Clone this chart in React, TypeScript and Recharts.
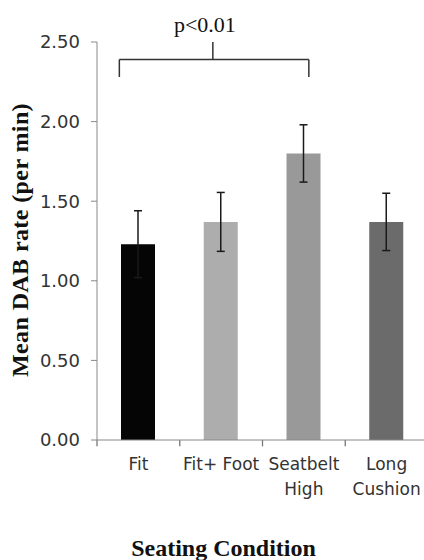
import { Bar, BarChart, Cell, ErrorBar, ReferenceLine, XAxis, YAxis } from 'recharts';

const conditions = ['Fit', 'Fit+ Foot', 'Seatbelt\nHigh', 'Long\nCushion'];
const meanRate = [1.23, 1.37, 1.8, 1.37];
const errRate = [0.21, 0.185, 0.18, 0.18];
const barColors = ['#050505', '#adadad', '#999999', '#6b6b6b'];
const slots = [0.5, 1.5, 2.5, 3.5];
const yTicks = [0, 0.5, 1, 1.5, 2, 2.5];
const boundaryTicks = [0, 1, 2, 3, 4];

const data = conditions.map((name, i) => ({ name, slot: slots[i], mean: meanRate[i], err: errRate[i] }));

const tickFont = { fontFamily: 'DejaVu Sans', fontSize: 18, fill: '#333' };
const titleFont = { fontFamily: '"Liberation Serif", serif', fontWeight: 700, fill: '#111' };

function CategoryTick({ x, y, payload }: any) {
  const lines = String(payload.value).split('\n');
  return (
    <text x={x} y={y} textAnchor="middle" {...tickFont} fontSize={17}>
      {lines.map((line, i) => (
        <tspan key={i} x={x} dy={i === 0 ? 24 : 25}>
          {line}
        </tspan>
      ))}
    </text>
  );
}

const bracket = { stroke: '#333', strokeWidth: 1.5 };

export default function App() {
  return (
    <div style={{ position: 'fixed', left: 0, top: 0, width: 424, height: 560, overflow: 'hidden', background: '#fff' }}>
      <BarChart width={440} height={560} data={data} margin={{ top: 42, right: 12, bottom: 0, left: 0 }}>
        <XAxis xAxisId="grid" type="number" dataKey="slot" domain={[0, 4]} allowDataOverflow hide />
        <XAxis
          xAxisId="cat"
          dataKey="name"
          height={120}
          stroke="#888"
          tickLine={false}
          tickMargin={0}
          interval={0}
          tick={<CategoryTick />}
          label={{ value: 'Seating Condition', position: 'insideBottom', offset: 4, dx: -39, style: { ...titleFont, fontSize: 24 } }}
        />
        <YAxis
          domain={[0, 2.5]}
          ticks={yTicks}
          width={97}
          stroke="#888"
          tickSize={6}
          tickMargin={11}
          tick={tickFont}
          tickFormatter={(v) => Number(v).toFixed(2)}
          label={{
            value: 'Mean DAB rate (per min)',
            angle: -90,
            position: 'insideLeft',
            offset: 0,
            dx: 19,
            dy: -1,
            style: { ...titleFont, fontSize: 24, letterSpacing: 0.4, textAnchor: 'middle' },
          }}
        />
        <Bar xAxisId="cat" dataKey="mean" barSize={34} isAnimationActive={false}>
          {data.map((d, i) => (
            <Cell key={d.name} fill={barColors[i]} />
          ))}
          <ErrorBar dataKey="err" width={4} stroke="#1a1a1a" strokeWidth={1.5} direction="y" />
        </Bar>
        {boundaryTicks.map((t) => (
          <ReferenceLine
            key={t}
            xAxisId="grid"
            segment={[{ x: t, y: 0 }, { x: t, y: -0.04 }]}
            stroke="#777"
            strokeWidth={1.3}
            ifOverflow="visible"
          />
        ))}
        <ReferenceLine xAxisId="grid" segment={[{ x: 0.27, y: 2.28 }, { x: 0.27, y: 2.39 }]} {...bracket} ifOverflow="visible" />
        <ReferenceLine xAxisId="grid" segment={[{ x: 0.27, y: 2.39 }, { x: 2.56, y: 2.39 }]} {...bracket} ifOverflow="visible" />
        <ReferenceLine xAxisId="grid" segment={[{ x: 2.56, y: 2.28 }, { x: 2.56, y: 2.39 }]} {...bracket} ifOverflow="visible" />
        <ReferenceLine
          xAxisId="grid"
          segment={[{ x: 1.4, y: 2.39 }, { x: 1.4, y: 2.5 }]}
          {...bracket}
          ifOverflow="visible"
          label={{ value: 'p<0.01', position: 'top', offset: 10, dx: -8, style: { fontFamily: '"Liberation Serif", serif', fontSize: 22, fill: '#111' } }}
        />
      </BarChart>
    </div>
  );
}
